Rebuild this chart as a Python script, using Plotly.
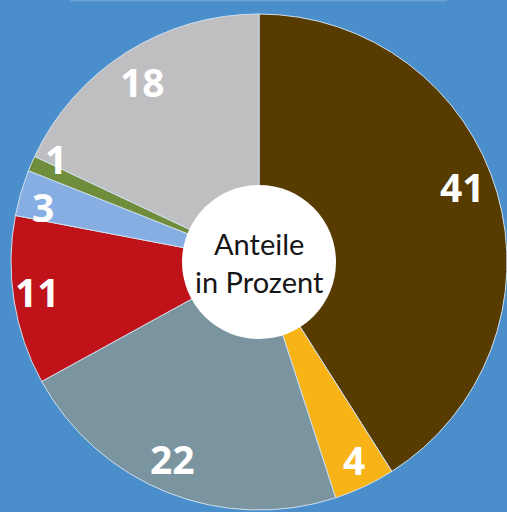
import math
import plotly.graph_objects as go

# Data
labels = ["A", "B", "C", "D", "E", "F", "G"]
values = [41, 4, 22, 11, 3, 1, 18]
colors = ["#573b00", "#f8b417", "#7a95a0", "#bf1219", "#86aee2", "#6f8d3b", "#bfbfc1"]
center_text = "Anteile<br>in Prozent"

# label placement styling (radius fraction, angular nudge in degrees)
label_rfrac = [0.875, 0.885, 0.865, 0.90, 0.90, 0.92, 0.866]
label_nudge = [-4.3, -0.4, 2.3, 1.3, -1.7, 3.5, -0.6]

W, H = 507, 512
BG = "#4a8fcb"
cx, cy, R = 259, 262, 248
hole_r = 77

fig = go.Figure()
fig.add_trace(go.Pie(
    labels=labels, values=values, sort=False, direction="clockwise", rotation=0,
    marker=dict(colors=colors, line=dict(color="#cfe0ee", width=1)),
    textinfo="none", hoverinfo="label+value", showlegend=False,
    domain=dict(x=[(cx - R) / W, (cx + R) / W], y=[1 - (cy + R) / H, 1 - (cy - R) / H]),
))

total = sum(values)
annotations = []
cum = 0
for v, rf, nd in zip(values, label_rfrac, label_nudge):
    a = math.radians((cum + v / 2) / total * 360 + nd)
    cum += v
    r = rf * R
    xp = cx + r * math.sin(a)
    yp = cy - r * math.cos(a)
    annotations.append(dict(
        x=xp / W, y=1 - yp / H, xref="paper", yref="paper", text=str(v), showarrow=False,
        font=dict(family="Open Sans", size=39, color="white", weight="bold"),
        xanchor="center", yanchor="middle"))

annotations.append(dict(
    x=cx / W, y=1 - 262 / H, xref="paper", yref="paper", text=center_text, showarrow=False,
    font=dict(family="Lato", size=29, color="#161616"), xanchor="center", yanchor="middle"))

shapes = [
    dict(type="circle", xref="paper", yref="paper", layer="above",
         x0=(cx - hole_r) / W, x1=(cx + hole_r) / W,
         y0=1 - (cy + hole_r) / H, y1=1 - (cy - hole_r) / H,
         fillcolor="white", line=dict(width=0)),
    dict(type="line", xref="paper", yref="paper", x0=70 / W, x1=447 / W, y0=1 - 0.8 / H, y1=1 - 0.8 / H,
         line=dict(color="#6aa3d6", width=1.5)),
]

fig.update_layout(
    width=W, height=H, margin=dict(l=0, r=0, t=0, b=0),
    paper_bgcolor=BG, plot_bgcolor=BG,
    annotations=annotations, shapes=shapes,
)
fig.write_html("out.html", config={"displayModeBar": False},
               post_script="document.body.style.margin='0px';document.body.style.overflow='hidden';")
